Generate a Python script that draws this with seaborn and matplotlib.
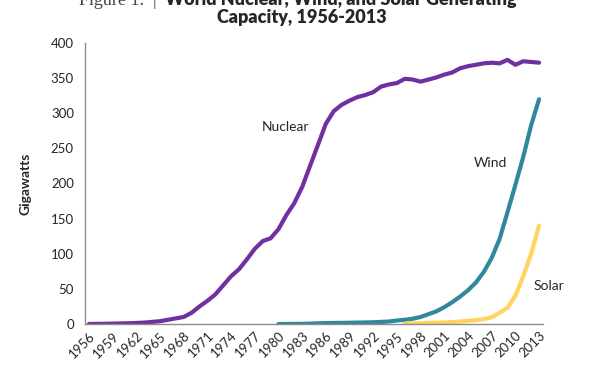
import numpy as np
import pandas as pd
import seaborn as sns
import matplotlib.pyplot as plt

# Installed capacity in gigawatts
years = list(range(1956, 2014))
nuclear = [0, 0.2, 0.3, 0.5, 0.8, 1, 1.5, 2, 3, 4, 6, 8, 10, 16, 25, 33, 42,
           55, 68, 78, 92, 107, 118, 122, 135, 155, 172, 195, 225, 255, 285,
           303, 312, 318, 323, 326, 330, 338, 341, 343, 349, 348, 345, 348,
           351, 355, 358, 364, 367, 369, 371, 372, 371, 376, 369, 374, 373, 372]
wind_years = list(range(1980, 2014))
wind = [0, 0, 0.1, 0.2, 0.5, 1, 1.3, 1.5, 1.6, 1.8, 2, 2.2, 2.5, 3, 3.5, 5,
        6, 7.5, 10, 14, 18, 24, 31, 39, 48, 59, 74, 94, 121, 159, 198, 238,
        283, 320]
solar_years = list(range(1996, 2014))
solar = [0.5, 0.7, 1, 1.5, 1.8, 2.2, 2.8, 3.5, 4.5, 5.5, 7, 9.5, 16, 23, 40,
         68, 100, 140]

df = pd.concat([
    pd.DataFrame({'year': years, 'gw': nuclear, 'source': 'Nuclear'}),
    pd.DataFrame({'year': wind_years, 'gw': wind, 'source': 'Wind'}),
    pd.DataFrame({'year': solar_years, 'gw': solar, 'source': 'Solar'}),
])

pal = {'Nuclear': '#7030a0', 'Wind': '#31879c', 'Solar': '#ffd45e'}

sns.set_style('white')
plt.rcParams['font.family'] = ['Lato', 'DejaVu Sans']

fig = plt.figure(figsize=(5.89, 3.72), dpi=100)
ax = fig.add_axes([85 / 589, 1 - 324 / 372, 458 / 589, 281 / 372])

sns.lineplot(data=df, x='year', y='gw', hue='source', palette=pal,
             lw=3, legend=False, ax=ax, solid_capstyle='round')

ax.set_xlim(1955.5, 2013.5)
ax.set_ylim(0, 400)
ax.set_yticks(range(0, 401, 50))
ax.set_xticks(range(1956, 2014, 3))
ax.set_xticklabels([str(y) for y in range(1956, 2014, 3)], rotation=45,
                   ha='right', va='top', rotation_mode='anchor', fontsize=9.5)
ax.tick_params(axis='y', labelsize=9.5, length=0, pad=8)
ax.tick_params(axis='x', length=0, pad=4)
ax.set_xlabel('')
ax.set_ylabel('Gigawatts', fontsize=10, fontweight='bold', labelpad=14)

sns.despine(ax=ax)
for s in ['left', 'bottom']:
    ax.spines[s].set_color('#8c8c8c')
    ax.spines[s].set_linewidth(1)

# Series labels
ax.text(1977.9, 281, 'Nuclear', fontsize=10, ha='left', va='center')
ax.text(2004.7, 229, 'Wind', fontsize=10, ha='left', va='center')
ax.text(2012.3, 54, 'Solar', fontsize=10, ha='left', va='center')

# Title (first line partly cut off at the top, as in the source)
fig.text(157 / 589, 1 - 5 / 372, 'Figure 1.  |', fontsize=13, ha='right',
         va='baseline', family=['Liberation Serif'], color='#444444')
fig.text(165 / 589, 1 - 5 / 372, 'World Nuclear, Wind, and Solar Generating',
         fontsize=13, fontweight='heavy', ha='left', va='baseline')
fig.text(302 / 589, 1 - 23 / 372, 'Capacity, 1956-2013', fontsize=13,
         fontweight='heavy', ha='center', va='baseline')

fig.savefig('out.png', dpi=100)
